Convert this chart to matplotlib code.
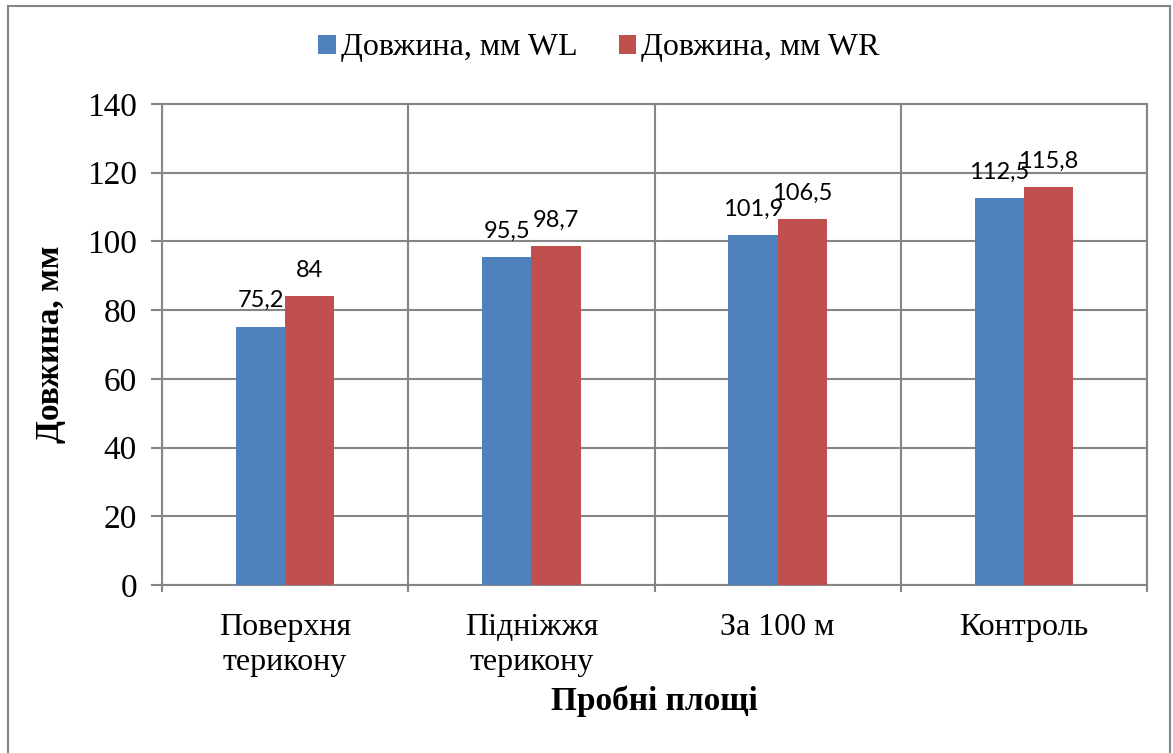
import matplotlib
matplotlib.use("Agg")
import matplotlib.pyplot as plt
import numpy as np
from matplotlib.patches import Rectangle

categories = ["Поверхня\nтерикону", "Підніжжя\nтерикону", "За 100 м", "Контроль"]
series_names = ["Довжина, мм WL", "Довжина, мм WR"]
wl_values = [75.2, 95.5, 101.9, 112.5]
wr_values = [84.0, 98.7, 106.5, 115.8]
value_labels_wl = ["75,2", "95,5", "101,9", "112,5"]
value_labels_wr = ["84", "98,7", "106,5", "115,8"]
y_ticks = [0, 20, 40, 60, 80, 100, 120, 140]

colors = ["#4F81BD", "#C0504D"]
grid_color = "#868686"
serif = ["Liberation Serif", "DejaVu Serif"]
sans = ["Lato", "DejaVu Sans"]

W, H = 1173, 753
fig = plt.figure(figsize=(W / 100, H / 100), dpi=100)
fig.patches.append(Rectangle((8 / W, -0.01), (1170 - 8) / W, 1 - 6 / H + 0.01,
                             transform=fig.transFigure, fill=False,
                             edgecolor=grid_color, linewidth=1.5))

ax = fig.add_axes([162 / W, 1 - 585 / H, (1147 - 162) / W, (585 - 104) / H])

x = np.arange(len(categories))
bw = 0.2
bars_l = ax.bar(x - bw / 2, wl_values, bw, color=colors[0], label=series_names[0], zorder=3)
bars_r = ax.bar(x + bw / 2, wr_values, bw, color=colors[1], label=series_names[1], zorder=3)

for bars, labels in ((bars_l, value_labels_wl), (bars_r, value_labels_wr)):
    for b, t in zip(bars, labels):
        ax.annotate(t, (b.get_x() + b.get_width() / 2, b.get_height()),
                    xytext=(0, 14), textcoords="offset points",
                    ha="center", va="baseline", fontsize=17, family=sans, zorder=4)

ax.set_xlim(-0.5, len(categories) - 0.5)
ax.set_ylim(0, 140)
ax.set_yticks(y_ticks)
ax.set_yticklabels([str(v) for v in y_ticks], family=serif, fontsize=24)
ax.tick_params(axis="y", length=8, color=grid_color, width=1.5, pad=10)

ax.set_xticks(np.arange(len(categories) + 1) - 0.5)
ax.set_xticklabels([])
ax.set_xticks(x, minor=True)
ax.set_xticklabels(categories, minor=True, family=serif, fontsize=23, linespacing=1.3)
ax.tick_params(axis="x", which="major", length=5, color=grid_color, width=1.5)
ax.tick_params(axis="x", which="minor", length=0, pad=20)

ax.grid(True, which="major", color=grid_color, linewidth=1.5, zorder=0)
for s in ax.spines.values():
    s.set_color(grid_color)
    s.set_linewidth(1.5)

ax.set_ylabel("Довжина, мм", family=serif, fontsize=24, fontweight="bold", labelpad=15)
ax.set_xlabel("Пробні площі", family=serif, fontsize=24, fontweight="bold", labelpad=6)

fig.legend(handles=[bars_l, bars_r], labels=series_names, loc="center",
           bbox_to_anchor=(599 / W, 1 - 48 / H), ncol=2, frameon=False,
           prop={"family": serif, "size": 23}, handlelength=0.55, handleheight=0.55,
           handletextpad=0.15, columnspacing=1.3)

fig.savefig("out.png", dpi=100)
